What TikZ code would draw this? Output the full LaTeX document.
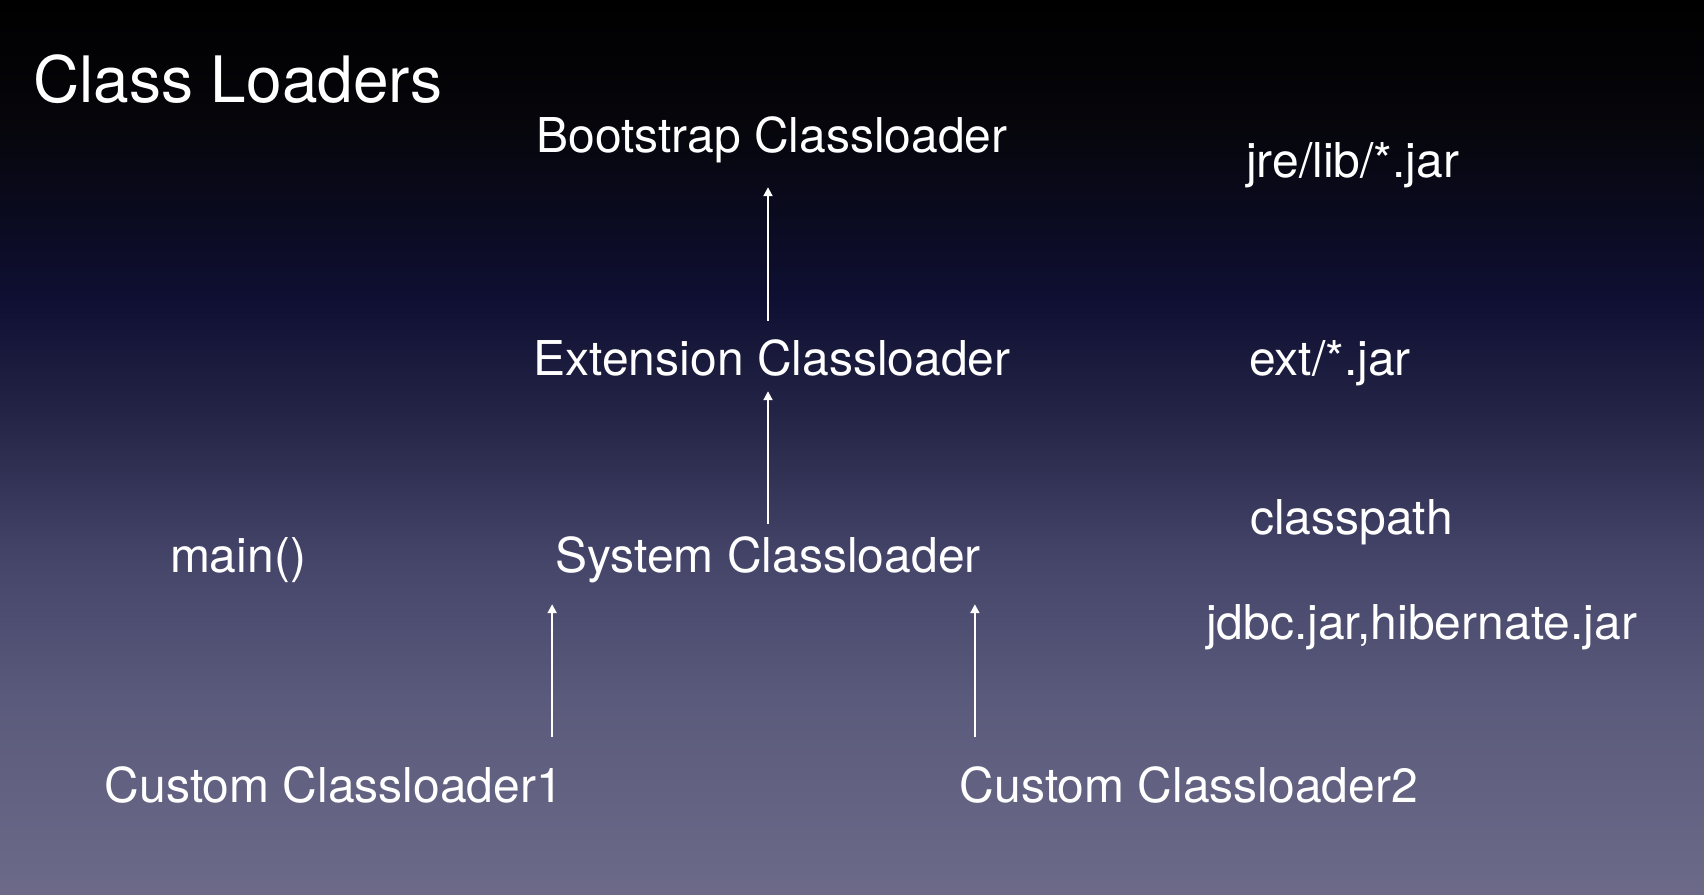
\documentclass[tikz,border=0pt]{standalone}
\usepackage{fontspec}
\setmainfont{TeX Gyre Heros}
\usepackage{tikz}
\usetikzlibrary{arrows.meta, calc}

\definecolor{bgA}{HTML}{000000}
\definecolor{bgB}{HTML}{06060C}
\definecolor{bgC}{HTML}{0F0F33}
\definecolor{bgD}{HTML}{252547}
\definecolor{bgE}{HTML}{45456A}
\definecolor{bgF}{HTML}{5A5A7C}
\definecolor{bgG}{HTML}{6C6A88}

\begin{document}
\begin{tikzpicture}[
  x=1pt, y=-1pt,
  lbl/.style={text=white, inner sep=0pt, anchor=base,
              font=\fontsize{48}{50}\selectfont,
              text height=35pt, text depth=10pt},
  srcpath/.style={lbl, anchor=base west},
  arr/.style={-{Triangle[width=9pt,length=9pt]}, white, line width=2pt},
]

% slide background
\useasboundingbox (0,0) rectangle (1704,894);
\fill[top color=bgA, bottom color=bgB] (0,0) rectangle (1704,130);
\fill[top color=bgB, bottom color=bgC] (0,129) rectangle (1704,300);
\fill[top color=bgC, bottom color=bgD] (0,299) rectangle (1704,420);
\fill[top color=bgD, bottom color=bgE] (0,419) rectangle (1704,560);
\fill[top color=bgE, bottom color=bgF] (0,559) rectangle (1704,700);
\fill[top color=bgF, bottom color=bgG] (0,699) rectangle (1704,894);

% title
\node[lbl, anchor=base west, font=\fontsize{64}{66}\selectfont] (title) at (33,102) {Class Loaders};

% loader hierarchy
\node[lbl] (boot) at (772,152) {Bootstrap Classloader};
\node[lbl] (ext)  at (772,375) {Extension Classloader};
\node[lbl] (sys)  at (768,572) {System Classloader};
\node[lbl] (main) at (238,572) {main()};
\node[lbl] (cl1)  at (334,802) {Custom Classloader1};
\node[lbl] (cl2)  at (1189,802) {Custom Classloader2};

% where each loader looks
\node[srcpath] (jre)  at (1246,177) {jre/lib/*.jar};
\node[srcpath] (extj) at (1249,375) {ext/*.jar};
\node[srcpath] (cp)   at (1250,534) {classpath};
\node[srcpath] (jars) at (1206,639) {jdbc.jar,hibernate.jar};

% parent arrows
\draw[arr, shorten <=19pt, shorten >=25pt]
  (ext.north -| sys.north) -- (boot.south -| sys.north);
\draw[arr, shorten <=13pt, shorten >=6pt]
  (sys.north) -- (ext.south -| sys.north);
\draw[arr, shorten <=30pt, shorten >=22pt]
  ([xshift=-3pt]cl1.north -| sys.south west) -- ([xshift=-3pt]sys.south west);
\draw[arr, shorten <=30pt, shorten >=22pt]
  ([xshift=-6pt]cl2.north -| sys.south east) -- ([xshift=-6pt]sys.south east);

\end{tikzpicture}
\end{document}
